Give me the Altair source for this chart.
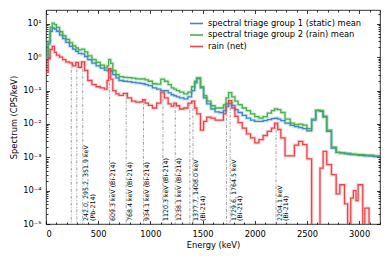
import altair as alt
import pandas as pd

# ---------------- data ----------------
energy = [
    0, 20, 40, 60, 80, 100, 130, 160, 190, 225,
    255, 285, 310, 340, 370, 400, 440, 480, 520, 560,
    585, 600, 620, 640, 670, 700, 740, 780, 820, 860,
    900, 925, 950, 980, 1020, 1060, 1100, 1135, 1170, 1200,
    1225, 1250, 1280, 1320, 1360, 1395, 1425, 1445, 1480, 1510,
    1540, 1580, 1620, 1660, 1700, 1725, 1750, 1780, 1810, 1840,
    1880, 1920, 1960, 2000, 2040, 2080, 2120, 2160, 2190, 2220,
    2250, 2290, 2340, 2380, 2420, 2460, 2500, 2545, 2585, 2625,
    2655, 2690, 2735, 2780, 2815, 2860, 2890, 2920, 2945, 2970,
    2990, 3035, 3055, 3095, 3140, 3200,
]

group1_static = [
    1.0, 2.5, 6.0, 7.5, 7.0, 6.0, 4.6, 3.6, 2.8, 2.1,
    1.75, 1.5, 1.3, 1.25, 1.05, 0.85, 0.66, 0.55, 0.47, 0.41,
    0.4, 0.42, 0.38, 0.3, 0.24, 0.2, 0.19, 0.185, 0.175, 0.17,
    0.165, 0.16, 0.15, 0.14, 0.12, 0.11, 0.1, 0.1, 0.085, 0.075,
    0.07, 0.065, 0.06, 0.056, 0.065, 0.1, 0.17, 0.23, 0.12, 0.06,
    0.04, 0.028, 0.023, 0.022, 0.025, 0.033, 0.041, 0.036, 0.027, 0.022,
    0.018, 0.015, 0.013, 0.012, 0.012, 0.0125, 0.0135, 0.0145, 0.0148, 0.014,
    0.0125, 0.0105, 0.009, 0.0083, 0.0078, 0.0072, 0.0062, 0.013, 0.025, 0.024,
    0.016, 0.006, 0.0019, 0.0014, 0.00135, 0.0013, 0.00125, 0.0012, 0.0012, 0.0012,
    0.00115, 0.00112, 0.0011, 0.00108, 0.00105, 0.00105,
]

group2_rain = [
    1.0, 3.0, 8.0, 10.5, 9.5, 7.8, 5.8, 4.4, 3.4, 2.7,
    2.2, 1.9, 1.65, 1.75, 1.45, 1.1, 0.85, 0.7, 0.58, 0.48,
    0.55, 0.85, 0.65, 0.4, 0.3, 0.26, 0.25, 0.245, 0.235, 0.225,
    0.22, 0.225, 0.21, 0.19, 0.16, 0.155, 0.22, 0.19, 0.15, 0.12,
    0.11, 0.1, 0.09, 0.08, 0.09, 0.13, 0.19, 0.24, 0.13, 0.07,
    0.048, 0.035, 0.03, 0.03, 0.037, 0.06, 0.087, 0.065, 0.048, 0.038,
    0.03, 0.025, 0.02, 0.0165, 0.015, 0.0165, 0.021, 0.025, 0.028, 0.027,
    0.022, 0.014, 0.0105, 0.0095, 0.0098, 0.0092, 0.0072, 0.014, 0.026, 0.025,
    0.017, 0.0065, 0.002, 0.0014, 0.00135, 0.0013, 0.0013, 0.00125, 0.00125, 0.0012,
    0.0012, 0.0012, 0.00115, 0.00115, 0.0011, 0.0011,
]

rain_net = [
    0.35, 0.9, 1.7, 2.1, 1.4, 1.15, 1.0, 0.85, 0.72, 0.68,
    0.55, 0.7, 0.5, 0.72, 0.4, 0.2, 0.15, 0.13, 0.12, 0.11,
    0.2, 0.45, 0.22, 0.1, 0.08, 0.072, 0.082, 0.06, 0.048, 0.045,
    0.046, 0.053, 0.042, 0.036, 0.03, 0.042, 0.09, 0.06, 0.04, 0.034,
    0.042, 0.035, 0.028, 0.03, 0.042, 0.048, 0.03, 0.02, 0.0065, 0.012,
    0.016, 0.015, 0.013, 0.013, 0.02, 0.04, 0.05, 0.03, 0.017, 0.011,
    0.0075, 0.005, 0.0038, 0.0027, 0.0034, 0.0045, 0.006, 0.0075, 0.0105, 0.0068,
    0.0038, 0.0011, 0.0011, 0.0023, 0.003, 0.0024, 0.0009, 1e-7, 1e-7, 0.00047,
    0.0015, 0.0006, 0.0003, 8e-5, 1.5e-4, 4e-5, 1e-7, 6e-5, 1e-4, 5e-5,
    1.5e-4, 1e-7, 3e-5, 1e-7, 1e-7, 1e-7,
]

series_names = [
    "spectral triage group 1 (static) mean",
    "spectral triage group 2 (rain) mean",
    "rain (net)",
]
series_colors = ["#3d86c8", "#45b048", "#e6464b"]

line_energy = [242.0, 295.2, 351.9, 609.3, 768.4, 934.1, 1120.3, 1238.1,
               1377.7, 1408.0, 1729.6, 1764.5, 2204.1]
line_top = [0.68, 0.7, 0.72, 0.45, 0.082, 0.053, 0.09, 0.042,
            0.042, 0.048, 0.04, 0.05, 0.0105]

label_energy = [351.9, 609.3, 768.4, 934.1, 1120.3, 1238.1, 1408.0, 1764.5, 2204.1]
label_text = [
    "242.0, 295.2, 351.9 keV\n(Pb-214)",
    "609.3 keV (Bi-214)",
    "768.4 keV (Bi-214)",
    "934.1 keV (Bi-214)",
    "1120.3 keV (Bi-214)",
    "1238.1 keV (Bi-214)",
    "1377.7, 1408.0 keV\n(Bi-214)",
    "1729.6, 1764.5 keV\n(Bi-214)",
    "2204.1 keV\n(Bi-214)",
]

x_major = [0, 500, 1000, 1500, 2000, 2500, 3000]
x_minor = list(range(0, 3201, 100))
y_major = [1e-5, 1e-4, 1e-3, 1e-2, 1e-1, 1e0, 1e1]
y_minor = [m * 10.0 ** k for k in range(-5, 2) for m in range(1, 10) if m * 10.0 ** k <= 26]

# ---------------- tables ----------------
rows = []
for name, vals in zip(series_names, [group1_static, group2_rain, rain_net]):
    for e, v in zip(energy, vals):
        rows.append({"energy": e, "value": v, "series": name})
df = pd.DataFrame(rows)
vdf = pd.DataFrame({"energy": line_energy, "top": line_top})
ldf = pd.DataFrame({"energy": label_energy, "label": label_text})
dummy = pd.DataFrame({"energy": [1000.0], "value": [1.0]})

W, H = 334, 214
FONT = "DejaVu Sans"
xs = alt.Scale(domain=[0, 3200], nice=False, zero=False)
ys = alt.Scale(type="log", domain=[1e-5, 26], nice=False)
cscale = alt.Scale(domain=series_names, range=series_colors)
legend = alt.Legend(orient="none", legendX=143, legendY=6, title=None,
                    symbolType="stroke", symbolStrokeWidth=1.6, symbolSize=169,
                    symbolOpacity=1, labelFontSize=8.3, labelFont=FONT, labelColor="black",
                    rowPadding=0.5, labelOffset=4, padding=0)

ylabel_expr = ("datum.value > 5 ? '10¹' : datum.value > 0.5 ? '10⁰' : "
               "datum.value > 0.05 ? '10⁻¹' : datum.value > 0.005 ? '10⁻²' : "
               "datum.value > 0.0005 ? '10⁻³' : datum.value > 0.00005 ? '10⁻⁴' : '10⁻⁵'")

halo = alt.Chart(df).mark_line(interpolate="step-after", clip=True, strokeWidth=3.4, opacity=0.22).encode(
    x=alt.X("energy:Q", scale=xs, axis=None),
    y=alt.Y("value:Q", scale=ys, axis=None),
    color=alt.Color("series:N", scale=cscale, legend=legend),
)

lines = alt.Chart(df).mark_line(interpolate="step-after", clip=True, strokeWidth=1.3).encode(
    x=alt.X("energy:Q", scale=xs,
            axis=alt.Axis(orient="bottom", values=x_major, ticks=False, labelPadding=5,
                          title="Energy (keV)", titlePadding=3, format="d")),
    y=alt.Y("value:Q", scale=ys,
            axis=alt.Axis(orient="left", values=y_major, ticks=False, labelPadding=5,
                          labelExpr=ylabel_expr, title="Spectrum (CPS/keV)", titlePadding=4)),
    color=alt.Color("series:N", scale=cscale, legend=legend),
)

vrules = alt.Chart(vdf).mark_rule(color="#8a8a8a", strokeWidth=0.8, strokeDash=[3, 1.5, 1, 1.5]).encode(
    x=alt.X("energy:Q", scale=xs, axis=None),
    y=alt.Y("top:Q", scale=ys, axis=None),
    y2=alt.value(H),
)

texts = alt.Chart(ldf).mark_text(angle=270, align="left", baseline="top", fontSize=6.3, font=FONT,
                                 dx=3, dy=0.5, lineBreak="\n", lineHeight=6.8, color="black").encode(
    x=alt.X("energy:Q", scale=xs, axis=None),
    y=alt.value(H),
    text="label:N",
)

xtest = "datum.value % 500 === 0"
ytest = "abs(log(datum.value)/LN10 - round(log(datum.value)/LN10)) < 0.001"


def tick_axis(orient, offset, values, test):
    return alt.Axis(orient=orient, offset=offset, values=values, labels=False, domain=False,
                    grid=False, title=None, ticks=True, tickColor="black", tickWidth=0.8,
                    tickSize={"condition": {"test": test, "value": 3.5}, "value": 2})


ticks_a = alt.Chart(dummy).mark_point(opacity=0).encode(
    x=alt.X("energy:Q", scale=xs, axis=tick_axis("top", -H, x_minor, xtest)),
    y=alt.Y("value:Q", scale=ys, axis=tick_axis("right", -W, y_minor, ytest)),
)
ticks_b = alt.Chart(dummy).mark_point(opacity=0).encode(
    x=alt.X("energy:Q", scale=xs, axis=tick_axis("bottom", -H, x_minor, xtest)),
    y=alt.Y("value:Q", scale=ys, axis=tick_axis("left", -W, y_minor, ytest)),
)

chart = alt.layer(halo, lines, vrules, texts, ticks_a, ticks_b).resolve_axis(
    x="independent", y="independent"
).properties(
    width=W, height=H, autosize="none",
    padding={"left": 38, "top": 2, "right": 2, "bottom": 34},
).configure_view(
    stroke="black", strokeWidth=0.8
).configure_axis(
    labelFont=FONT, titleFont=FONT, labelFontSize=8.3, titleFontSize=8.3,
    titleFontWeight="normal", labelColor="black", titleColor="black", grid=False, domain=False,
)

chart.save("out.html", embed_options={"renderer": "svg", "actions": False})
